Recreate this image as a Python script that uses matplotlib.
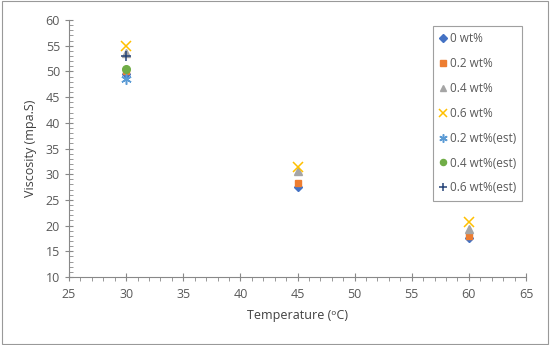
import matplotlib
matplotlib.use("Agg")
import matplotlib.pyplot as plt
from matplotlib.ticker import MultipleLocator
from matplotlib.patches import Rectangle

plt.rcParams['font.family'] = ['Open Sans', 'DejaVu Sans']

temps = [30, 45, 60]
v_0 = [49.5, 27.5, 17.5]
v_02 = [50.0, 28.2, 17.9]
v_04 = [53.5, 30.6, 19.3]
v_06 = [55.0, 31.4, 20.7]
est_temps = [30]
est_02 = [48.5]
est_04 = [50.5]
est_06 = [53.0]

labels = ['0 wt%', '0.2 wt%', '0.4 wt%', '0.6 wt%',
          '0.2 wt%(est)', '0.4 wt%(est)', '0.6 wt%(est)']

fig = plt.figure(figsize=(5.5, 3.45), dpi=100)
ax = fig.add_axes([69/550, 1-277/345, (526-69)/550, (277-20)/345])

ax.plot(temps, v_0, ls='none', marker='D', ms=4.5, color='#4472C4', label=labels[0])
ax.plot(temps, v_02, ls='none', marker='s', ms=5, color='#ED7D31', label=labels[1])
ax.plot(temps, v_04, ls='none', marker='^', ms=6, color='#A5A5A5', label=labels[2])
ax.plot(temps, v_06, ls='none', marker='x', ms=6.5, mew=1.1, color='#FFC000', label=labels[3])
ax.plot(est_temps, est_02, ls='none', marker=(6, 2, 0), ms=7.5, mew=1.1, color='#5B9BD5', label=labels[4])
ax.plot(est_temps, est_04, ls='none', marker='o', ms=5.5, color='#70AD47', label=labels[5])
ax.plot(est_temps, est_06, ls='none', marker='+', ms=7.5, mew=1.1, color='#264478', label=labels[6])

ax.set_xlim(25, 65)
ax.set_ylim(10, 60)
ax.xaxis.set_major_locator(MultipleLocator(5))
ax.yaxis.set_major_locator(MultipleLocator(5))
ax.xaxis.set_minor_locator(MultipleLocator(1))
ax.yaxis.set_minor_locator(MultipleLocator(1))

for s in ['top', 'right']:
    ax.spines[s].set_visible(False)
for s in ['left', 'bottom']:
    ax.spines[s].set_color('#888888')
    ax.spines[s].set_linewidth(0.8)

ax.tick_params(axis='both', which='major', direction='inout', length=6, width=0.8,
               color='#888888', labelcolor='#595959', labelsize=9)
ax.tick_params(axis='y', which='minor', direction='in', length=3, width=0.6, color='#888888')
ax.tick_params(axis='x', which='minor', direction='out', length=3, width=0.6, color='#888888')
ax.tick_params(axis='x', which='major', pad=5)

ax.set_xlabel('Temperature (\u1d52C)', fontsize=9, color='#404040', labelpad=6)
ax.set_ylabel('Viscosity (mpa.S)', fontsize=9, color='#404040', labelpad=6)

leg = ax.legend(loc='upper left', bbox_to_anchor=((433-69)/(526-69), 1 - (26-20)/(277-20)),
                frameon=True, fancybox=False, fontsize=8.5, handlelength=0.6,
                handletextpad=0.25, labelspacing=1.0, borderpad=0.55, borderaxespad=0,
                markerscale=0.8)
leg.get_frame().set_edgecolor('#888888')
leg.get_frame().set_linewidth(0.8)
for t in leg.get_texts():
    t.set_color('#595959')

fig.patches.append(Rectangle((0.003, 0.004), 0.994, 0.992, transform=fig.transFigure,
                             fill=False, edgecolor='#999999', linewidth=0.8))

fig.savefig('out.png', dpi=100)
